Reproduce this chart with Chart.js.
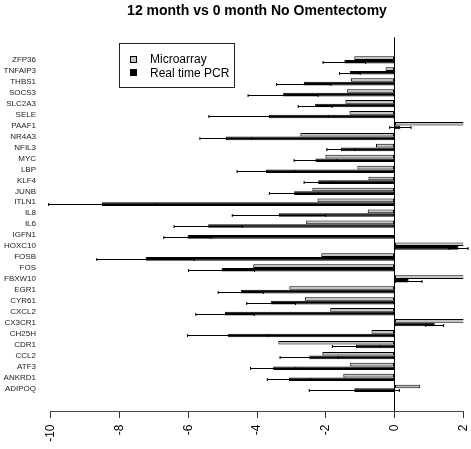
<!DOCTYPE html>
<html>
<head>
<meta charset="utf-8">
<script src="https://cdn.jsdelivr.net/npm/chart.js@4.4.1/dist/chart.umd.min.js"></script>
<style>
  body { margin: 0; background: #fff; }
  #wrap { width: 471px; height: 449px; }
</style>
</head>
<body>
<div id="wrap"><canvas id="bar-chart" width="471" height="449"></canvas></div>
<script>
// genes, top to bottom
var genes = ['ZFP36', 'TNFAIP3', 'THBS1', 'SOCS3', 'SLC2A3', 'SELE', 'PAAF1', 'NR4A3',
  'NFIL3', 'MYC', 'LBP', 'KLF4', 'JUNB', 'ITLN1', 'IL8', 'IL6', 'IGFN1', 'HOXC10',
  'FOSB', 'FOS', 'FBXW10', 'EGR1', 'CYR61', 'CXCL2', 'CX3CR1', 'CH25H', 'CDR1',
  'CCL2', 'ATF3', 'ANKRD1', 'ADIPOQ'];

var microarray = [-1.17, -0.26, -1.27, -1.39, -1.43, -1.31, 2.04, -2.74,
  -0.54, -2.01, -1.08, -0.76, -2.39, -2.24, -0.78, -2.57, null, 2.11,
  -2.13, -4.11, 2.08, -3.06, -2.61, -1.87, 2.14, -0.67, -3.38,
  -2.10, -1.29, -1.49, 0.75];

var realTimePCR = [-1.46, -1.30, -2.64, -3.24, -2.31, -3.66, 0.17, -4.91,
  -1.56, -2.30, -3.74, -2.22, -2.92, -8.51, -3.36, -5.42, -6.02, 1.86,
  -7.24, -5.03, 0.41, -4.47, -3.59, -4.93, 1.17, -4.84, -1.12,
  -2.48, -3.53, -3.07, -1.17];

// error bar half length for the PCR bars
var pcrError = [0.62, 0.30, 0.79, 1.02, 0.49, 1.74, 0.31, 0.75,
  0.41, 0.62, 0.84, 0.41, 0.72, 1.55, 1.36, 0.99, 0.69, 0.28,
  1.42, 0.96, 0.39, 0.66, 0.71, 0.85, 0.26, 1.18, 0.69,
  0.85, 0.66, 0.63, 1.31];

var xMin = -10, xMax = 2, xStep = 2;

var FONT = "'Liberation Sans', Arial, sans-serif";

function toPoints(vals) {
  var pts = [];
  for (var i = 0; i < vals.length; i++) {
    if (vals[i] !== null) pts.push({ x: vals[i], y: i });
  }
  return pts;
}

var errorBars = {
  id: 'errorBars',
  afterDatasetsDraw: function(chart) {
    var ctx = chart.ctx;
    var xs = chart.scales.x;
    var meta = chart.getDatasetMeta(1);
    ctx.save();
    ctx.strokeStyle = '#000';
    ctx.lineWidth = 1;
    meta.data.forEach(function(bar, k) {
      var i = meta._parsed[k].y;
      var v = realTimePCR[i], e = pcrError[i];
      var x1 = xs.getPixelForValue(v - e), x2 = xs.getPixelForValue(v + e);
      var y = Math.round(bar.y) + 0.5;
      ctx.beginPath();
      ctx.moveTo(x1, y); ctx.lineTo(x2, y);
      ctx.moveTo(x1, y - 1.5); ctx.lineTo(x1, y + 1.5);
      ctx.moveTo(x2, y - 1.5); ctx.lineTo(x2, y + 1.5);
      ctx.stroke();
    });
    ctx.restore();
  }
};

// R style legend box in the top left of the plot
var boxLegend = {
  id: 'boxLegend',
  afterDraw: function(chart) {
    var ctx = chart.ctx;
    var ca = chart.chartArea;
    var left = ca.left + 68.5, top = ca.top + 6;
    ctx.save();
    ctx.strokeStyle = '#222';
    ctx.lineWidth = 1;
    ctx.strokeRect(Math.round(left) + 0.5, Math.round(top) + 0.5, 115, 44);
    var items = [
      { text: 'Microarray', fill: '#c4c4c4' },
      { text: 'Real time PCR', fill: '#000' }
    ];
    ctx.font = '12px ' + FONT;
    ctx.textBaseline = 'middle';
    items.forEach(function(it, n) {
      var cy = Math.round(top) + 16 + n * 13.7;
      ctx.fillStyle = it.fill;
      ctx.fillRect(Math.round(left) + 11, Math.round(cy - 3.5), 7, 7);
      ctx.strokeStyle = '#000';
      ctx.strokeRect(Math.round(left) + 11.5, Math.round(cy - 3.5) + 0.5, 6, 6);
      ctx.fillStyle = '#000';
      ctx.fillText(it.text, Math.round(left) + 31, cy + 0.5);
    });
    ctx.restore();
  }
};

new Chart(document.getElementById('bar-chart'), {
  type: 'bar',
  data: {
    datasets: [
      {
        label: 'Microarray',
        data: toPoints(microarray),
        backgroundColor: '#c4c4c4',
        borderColor: '#000',
        borderWidth: 1,
        borderSkipped: false,
        inflateAmount: 0
      },
      {
        label: 'Real time PCR',
        data: toPoints(realTimePCR),
        backgroundColor: '#000',
        borderColor: '#000',
        borderWidth: 1,
        borderSkipped: false,
        inflateAmount: 0
      }
    ]
  },
  options: {
    indexAxis: 'y',
    responsive: false,
    animation: false,
    categoryPercentage: 2 / 3,
    barPercentage: 1,
    layout: { padding: { left: 0, right: 7.7, top: 0, bottom: 0 } },
    scales: {
      x: {
        type: 'linear',
        min: xMin,
        max: xMax,
        ticks: {
          stepSize: xStep,
          minRotation: 90,
          maxRotation: 90,
          padding: 6.5,
          color: '#000',
          font: { family: FONT, size: 12 }
        },
        grid: {
          drawTicks: true,
          tickLength: 7,
          tickColor: '#333',
          color: function(c) { return c.tick && c.tick.value === 0 ? '#000' : 'rgba(0,0,0,0)'; }
        },
        border: { display: true, color: '#444' },
        afterFit: function(s) { s.height = 38; s.paddingLeft = 0; s.paddingRight = 0; }
      },
      y: {
        type: 'linear',
        reverse: true,
        min: -1.55,
        max: 31.55,
        ticks: {
          stepSize: 1,
          autoSkip: false,
          padding: 14.7,
          color: '#222',
          font: { family: FONT, size: 8 },
          callback: function(v) {
            return (Number.isInteger(v) && genes[v] !== undefined) ? genes[v] : '';
          }
        },
        grid: { display: false, drawTicks: false },
        border: { display: false },
        afterFit: function(s) { s.width = 50.7; s.paddingTop = 0; s.paddingBottom = 0; }
      }
    },
    plugins: {
      legend: { display: false },
      tooltip: { enabled: false },
      title: {
        display: true,
        fullSize: false,
        text: '12 month vs 0 month No Omentectomy',
        color: '#000',
        font: { family: FONT, size: 14, weight: 'bold' },
        padding: { top: 3, bottom: 17.5 }
      }
    }
  },
  plugins: [errorBars, boxLegend]
});
</script>
</body>
</html>
